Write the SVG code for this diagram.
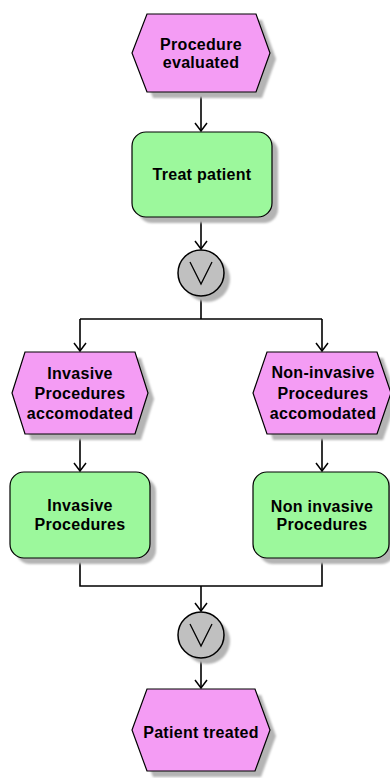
<svg xmlns="http://www.w3.org/2000/svg" width="390" height="778" viewBox="0 0 390 778">
  <style>
    .event { fill: #F49CF4; stroke: #000; stroke-width: 1.2; }
    .func { fill: #9CF89C; stroke: #000; stroke-width: 1.2; }
    .gate { fill: #C0C0C0; stroke: #000; stroke-width: 1.5; }
    .shadow { fill: #B4B4B4; filter: url(#soft); }
    .sym { fill: none; stroke: #000; stroke-width: 1.3; }
    .lbl { font-family: "Liberation Sans", Arial, sans-serif; font-weight: bold; font-size: 16px; letter-spacing: 0.3px; fill: #000; text-anchor: middle; }
    .conn { fill: none; stroke: #000; stroke-width: 1.6; }
  </style>
  <defs>
    <filter id="soft" x="-10%" y="-10%" width="120%" height="120%">
      <feGaussianBlur stdDeviation="1"/>
    </filter>
    <marker id="arrow" markerUnits="userSpaceOnUse" viewBox="-10 -8 12 16" refX="0" refY="0" markerWidth="12" markerHeight="16" orient="auto">
      <path d="M-8,-6 L0,0 L-8,6" fill="none" stroke="#000" stroke-width="1.5"/>
    </marker>
  </defs>
  <rect width="390" height="778" fill="#FFFFFF"/>

  <g id="connectors">
    <path class="conn" d="M201,92 V131" marker-end="url(#arrow)"/>
    <path class="conn" d="M201,217 V249" marker-end="url(#arrow)"/>
    <path class="conn" d="M201,296 V319"/>
    <path class="conn" d="M80,319 H322"/>
    <path class="conn" d="M80,319 V351" marker-end="url(#arrow)"/>
    <path class="conn" d="M322,319 V351" marker-end="url(#arrow)"/>
    <path class="conn" d="M80,434 V471" marker-end="url(#arrow)"/>
    <path class="conn" d="M322,434 V471" marker-end="url(#arrow)"/>
    <path class="conn" d="M80,558 V586 H322 V558"/>
    <path class="conn" d="M201,586 V611" marker-end="url(#arrow)"/>
    <path class="conn" d="M201,658 V688" marker-end="url(#arrow)"/>
  </g>

  <g id="procedure-evaluated">
    <polygon class="shadow" points="153,20 262,20 276,59 262,98 153,98 138,59"/>
    <polygon class="event" points="147,14 256,14 270,53 256,92 147,92 132,53"/>
    <text class="lbl" x="201" y="50">Procedure</text>
    <text class="lbl" x="201" y="68">evaluated</text>
  </g>

  <g id="treat-patient">
    <rect class="shadow" x="138" y="138" width="140" height="85" rx="14"/>
    <rect class="func" x="132" y="132" width="140" height="85" rx="14"/>
    <text class="lbl" x="202" y="180">Treat patient</text>
  </g>

  <g id="or-split">
    <circle class="shadow" cx="207" cy="279" r="23"/>
    <circle class="gate" cx="201" cy="273" r="23"/>
    <polyline class="sym" points="190,262 201,284 212,262"/>
  </g>

  <g id="invasive-accomodated">
    <polygon class="shadow" points="31,358 141,358 154,399 141,440 31,440 18,399"/>
    <polygon class="event" points="25,352 135,352 148,393 135,434 25,434 12,393"/>
    <text class="lbl" x="80" y="379">Invasive</text>
    <text class="lbl" x="80" y="399">Procedures</text>
    <text class="lbl" x="80" y="419">accomodated</text>
  </g>

  <g id="noninvasive-accomodated">
    <polygon class="shadow" points="273,358 383,358 397,399 383,440 273,440 259,399"/>
    <polygon class="event" points="267,352 377,352 391,393 377,434 267,434 253,393"/>
    <text class="lbl" x="323" y="378">Non-invasive</text>
    <text class="lbl" x="323" y="399">Procedures</text>
    <text class="lbl" x="323" y="419">accomodated</text>
  </g>

  <g id="invasive-procedures">
    <rect class="shadow" x="16" y="478" width="140" height="86" rx="14"/>
    <rect class="func" x="10" y="472" width="140" height="86" rx="14"/>
    <text class="lbl" x="80" y="511">Invasive</text>
    <text class="lbl" x="80" y="530">Procedures</text>
  </g>

  <g id="noninvasive-procedures">
    <rect class="shadow" x="259" y="478" width="136" height="86" rx="14"/>
    <rect class="func" x="253" y="472" width="136" height="86" rx="14"/>
    <text class="lbl" x="322" y="512">Non invasive</text>
    <text class="lbl" x="322" y="530">Procedures</text>
  </g>

  <g id="or-join">
    <circle class="shadow" cx="207" cy="641" r="23"/>
    <circle class="gate" cx="201" cy="635" r="23"/>
    <polyline class="sym" points="190,624 201,646 212,624"/>
  </g>

  <g id="patient-treated">
    <polygon class="shadow" points="153,695 261,695 276,736 261,777 153,777 138,736"/>
    <polygon class="event" points="147,689 255,689 270,730 255,771 147,771 132,730"/>
    <text class="lbl" x="201" y="738">Patient treated</text>
  </g>
</svg>
